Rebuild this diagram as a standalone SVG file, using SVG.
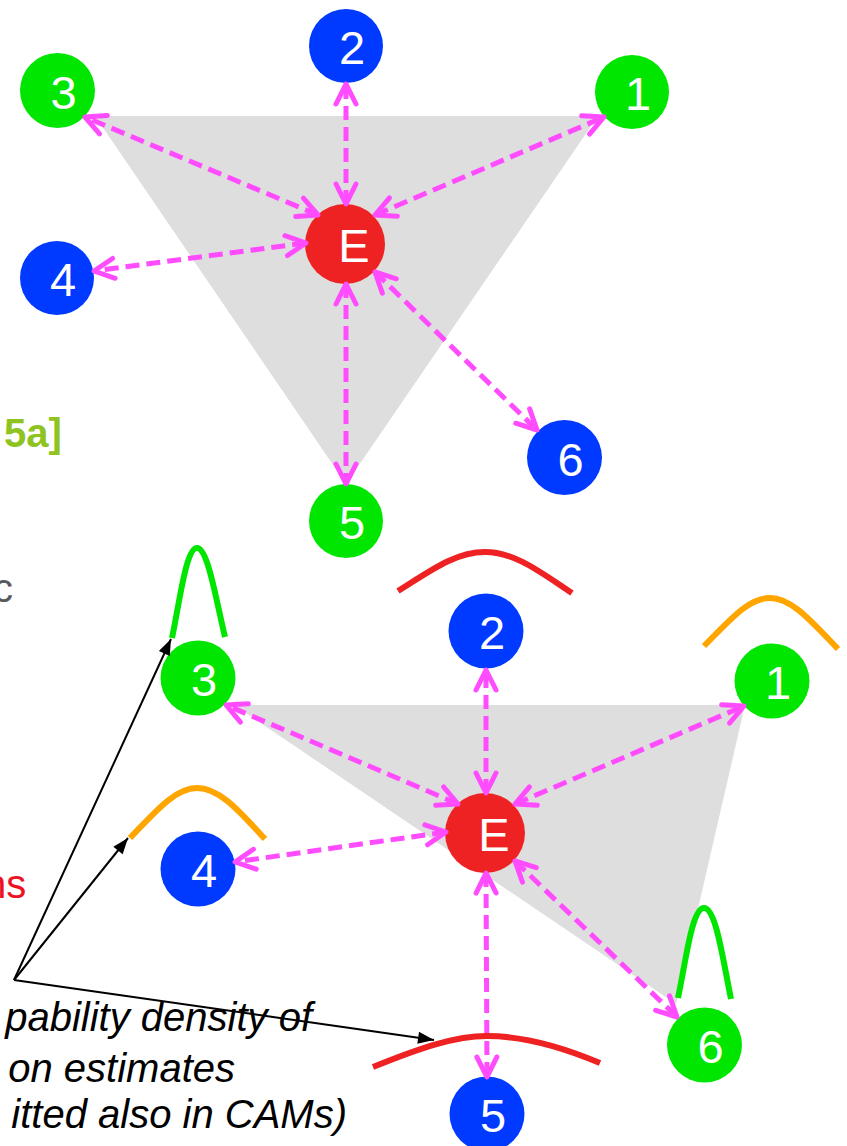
<svg xmlns="http://www.w3.org/2000/svg" width="847" height="1146" viewBox="0 0 847 1146">
<style>
.zone{fill:#DEDEDE;stroke:none}
.g{fill:#00E600}
.b{fill:#0039FF}
.r{fill:#EE2222}
.lbl{font-family:"Liberation Sans",Arial,sans-serif;font-size:47px;fill:#FFFFFF;text-anchor:middle}
.link{fill:none;stroke:#FF4CFF;stroke-width:5;stroke-dasharray:14 7;marker-start:url(#mh);marker-end:url(#mh)}
.ptr{fill:none;stroke:#000000;stroke-width:2;marker-end:url(#ah)}
.pdf{fill:none;stroke-width:6;stroke-linecap:butt}
.note{font-family:"Liberation Sans",Arial,sans-serif;font-size:40px;font-style:italic;fill:#000000;text-anchor:end}
</style>
<defs>
<marker id="mh" viewBox="-26 -16 32 32" refX="0" refY="0" markerWidth="32" markerHeight="32" markerUnits="userSpaceOnUse" orient="auto-start-reverse">
<path d="M-20,-10 L0,0 L-20,10" fill="none" stroke="#FF4CFF" stroke-width="5" stroke-linecap="round" stroke-linejoin="round"/>
</marker>
<marker id="ah" viewBox="-18 -8 20 16" refX="0" refY="0" markerWidth="20" markerHeight="16" markerUnits="userSpaceOnUse" orient="auto">
<path d="M0,0 L-16,-6 L-16,6 Z" fill="#000000"/>
</marker>
</defs>
<rect width="847" height="1146" fill="#FFFFFF"/>

<g id="zones">
<polygon class="zone" points="95,116 598,116 346,484"/>
<polygon class="zone" points="234,705 745,705 676,1004"/>
</g>

<g id="side-texts">
<text x="4" y="447" font-family="'Liberation Sans',Arial,sans-serif" font-size="40" font-weight="bold" fill="#8FC31F">5a]</text>
<text x="-7" y="602" font-family="'Liberation Sans',Arial,sans-serif" font-size="40" fill="#595959">c</text>
<text x="-16" y="898" font-family="'Liberation Sans',Arial,sans-serif" font-size="40" fill="#EE1122">ns</text>
</g>

<g id="top-nodes">
<g id="t2"><circle class="b" cx="346" cy="46" r="37"/><text class="lbl" x="352" y="64">2</text></g>
<g id="t3"><circle class="g" cx="57.5" cy="90.5" r="37.5"/><text class="lbl" x="63.5" y="108.5">3</text></g>
<g id="t1"><circle class="g" cx="632" cy="92" r="37"/><text class="lbl" x="638" y="110">1</text></g>
<g id="t4"><circle class="b" cx="57" cy="278" r="37"/><text class="lbl" x="63" y="296">4</text></g>
<g id="tE"><circle class="r" cx="345" cy="244" r="40"/><text class="lbl" x="354" y="262">E</text></g>
<g id="t6"><circle class="b" cx="564.5" cy="457.5" r="37.5"/><text class="lbl" x="570.5" y="475.5">6</text></g>
<g id="t5"><circle class="g" cx="346" cy="521" r="37"/><text class="lbl" x="352" y="539">5</text></g>
</g>

<g id="bottom-nodes">
<g id="b2"><circle class="b" cx="486" cy="631" r="37.5"/><text class="lbl" x="492" y="649">2</text></g>
<g id="b3"><circle class="g" cx="198" cy="678" r="37.5"/><text class="lbl" x="204" y="696">3</text></g>
<g id="b1"><circle class="g" cx="772" cy="681" r="37.5"/><text class="lbl" x="778" y="699">1</text></g>
<g id="b4"><circle class="b" cx="198" cy="869" r="37.5"/><text class="lbl" x="204" y="887">4</text></g>
<g id="bE"><circle class="r" cx="485" cy="833" r="40"/><text class="lbl" x="494" y="851">E</text></g>
<g id="b6"><circle class="g" cx="704.5" cy="1045" r="37.5"/><text class="lbl" x="710.5" y="1063">6</text></g>
<g id="b5"><circle class="b" cx="487" cy="1114" r="37.5"/><text class="lbl" x="493" y="1132">5</text></g>
</g>

<g id="connectors">
<line class="link" x1="346" y1="204" x2="346" y2="84"/>
<line class="link" x1="318" y1="215" x2="85" y2="117"/>
<line class="link" x1="375" y1="215" x2="604" y2="117"/>
<line class="link" x1="306" y1="243" x2="94" y2="271"/>
<line class="link" x1="346" y1="284" x2="346" y2="484"/>
<line class="link" x1="375" y1="272" x2="537" y2="430"/>

<line class="link" x1="486" y1="793" x2="486" y2="670"/>
<line class="link" x1="458" y1="804" x2="226" y2="705"/>
<line class="link" x1="515" y1="804" x2="744" y2="706"/>
<line class="link" x1="446" y1="832" x2="235" y2="862"/>
<line class="link" x1="486" y1="873" x2="487" y2="1077"/>
<line class="link" x1="515" y1="861" x2="677" y2="1017"/>
</g>

<g id="densities">
<path class="pdf" stroke="#EE2222" d="M398,591 C430,571 455,552 485,552 C515,552 540,572 572,593"/>
<path class="pdf" stroke="#FFA500" d="M704,646 C730,620 748,598 770,598 C792,598 812,622 838,649"/>
<path class="pdf" stroke="#00E600" d="M172,638 C180,600 186,548 197,548 C208,548 216,600 225,637"/>
<path class="pdf" stroke="#FFA500" d="M130,838 C155,812 175,788 197,788 C220,788 240,812 265,839"/>
<path class="pdf" stroke="#00E600" d="M678,998 C686,960 692,908 704,908 C716,908 723,960 731,999"/>
<path class="pdf" stroke="#EE2222" d="M373,1067 C420,1048 455,1036 487,1036 C520,1036 560,1046 600,1063"/>
</g>

<g id="annotation">
<text class="note" x="312" y="1031">pability density of</text>
<text class="note" x="235" y="1082">on estimates</text>
<text class="note" x="347" y="1128">itted also in CAMs)</text>
<line class="ptr" x1="14" y1="980" x2="171" y2="639"/>
<line class="ptr" x1="14" y1="980" x2="128" y2="838"/>
<line class="ptr" x1="14" y1="980" x2="434" y2="1040"/>
</g>
</svg>
